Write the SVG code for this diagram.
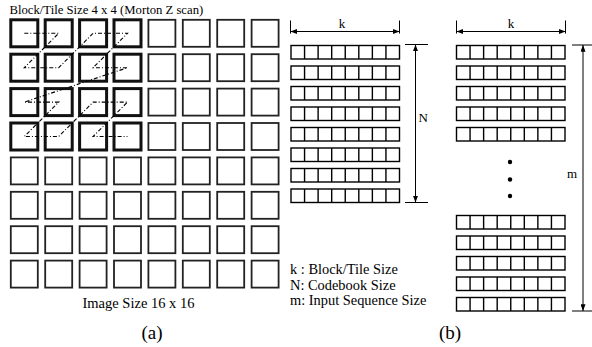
<svg xmlns="http://www.w3.org/2000/svg" xmlns:xlink="http://www.w3.org/1999/xlink" width="592" height="347" viewBox="0 0 592 347">
<style>
text{font-family:"Liberation Serif","Times New Roman",serif;fill:#000}
.thick{fill:#fff;stroke:#111;stroke-width:3}
.thin{fill:#fff;stroke:#222;stroke-width:1.8}
.cell{fill:#fff;stroke:#000;stroke-width:1.4}
.dim{fill:none;stroke:#000;stroke-width:1}
.scan{fill:none;stroke:#000;stroke-width:1.1;stroke-dasharray:4 2 1 2}
</style>
<defs>
<marker id="ah" viewBox="0 0 8 6" refX="8" refY="3" markerWidth="7" markerHeight="5" orient="auto-start-reverse" markerUnits="userSpaceOnUse">
<path d="M0,0 L8,3 L0,6 Z" fill="#000"/>
</marker>
<g id="strip">
<rect class="cell" x="0" y="0" width="108.5" height="13.5"/>
<path d="M13.56,0V13.5M27.12,0V13.5M40.69,0V13.5M54.25,0V13.5M67.81,0V13.5M81.37,0V13.5M94.94,0V13.5" stroke="#000" stroke-width="1.4"/>
</g>
<rect id="sq" width="27" height="27"/>
</defs>
<rect width="592" height="347" fill="#fff"/>

<g id="panel-a">
<text x="9.5" y="14" font-size="12.7">Block/Tile Size 4 x 4 (Morton Z scan)</text>
<g id="grid">
<g class="thick">
<use href="#sq" x="10.8" y="19.8"/><use href="#sq" x="45.2" y="19.8"/><use href="#sq" x="79.6" y="19.8"/><use href="#sq" x="114" y="19.8"/>
<use href="#sq" x="10.8" y="54.2"/><use href="#sq" x="45.2" y="54.2"/><use href="#sq" x="79.6" y="54.2"/><use href="#sq" x="114" y="54.2"/>
<use href="#sq" x="10.8" y="88.6"/><use href="#sq" x="45.2" y="88.6"/><use href="#sq" x="79.6" y="88.6"/><use href="#sq" x="114" y="88.6"/>
<use href="#sq" x="10.8" y="123"/><use href="#sq" x="45.2" y="123"/><use href="#sq" x="79.6" y="123"/><use href="#sq" x="114" y="123"/>
</g>
<g class="thin">
<use href="#sq" x="148.4" y="19.8"/><use href="#sq" x="182.8" y="19.8"/><use href="#sq" x="217.2" y="19.8"/><use href="#sq" x="251.6" y="19.8"/>
<use href="#sq" x="148.4" y="54.2"/><use href="#sq" x="182.8" y="54.2"/><use href="#sq" x="217.2" y="54.2"/><use href="#sq" x="251.6" y="54.2"/>
<use href="#sq" x="148.4" y="88.6"/><use href="#sq" x="182.8" y="88.6"/><use href="#sq" x="217.2" y="88.6"/><use href="#sq" x="251.6" y="88.6"/>
<use href="#sq" x="148.4" y="123"/><use href="#sq" x="182.8" y="123"/><use href="#sq" x="217.2" y="123"/><use href="#sq" x="251.6" y="123"/>
<use href="#sq" x="10.8" y="157.4"/><use href="#sq" x="45.2" y="157.4"/><use href="#sq" x="79.6" y="157.4"/><use href="#sq" x="114" y="157.4"/><use href="#sq" x="148.4" y="157.4"/><use href="#sq" x="182.8" y="157.4"/><use href="#sq" x="217.2" y="157.4"/><use href="#sq" x="251.6" y="157.4"/>
<use href="#sq" x="10.8" y="191.8"/><use href="#sq" x="45.2" y="191.8"/><use href="#sq" x="79.6" y="191.8"/><use href="#sq" x="114" y="191.8"/><use href="#sq" x="148.4" y="191.8"/><use href="#sq" x="182.8" y="191.8"/><use href="#sq" x="217.2" y="191.8"/><use href="#sq" x="251.6" y="191.8"/>
<use href="#sq" x="10.8" y="226.2"/><use href="#sq" x="45.2" y="226.2"/><use href="#sq" x="79.6" y="226.2"/><use href="#sq" x="114" y="226.2"/><use href="#sq" x="148.4" y="226.2"/><use href="#sq" x="182.8" y="226.2"/><use href="#sq" x="217.2" y="226.2"/><use href="#sq" x="251.6" y="226.2"/>
<use href="#sq" x="10.8" y="260.6"/><use href="#sq" x="45.2" y="260.6"/><use href="#sq" x="79.6" y="260.6"/><use href="#sq" x="114" y="260.6"/><use href="#sq" x="148.4" y="260.6"/><use href="#sq" x="182.8" y="260.6"/><use href="#sq" x="217.2" y="260.6"/><use href="#sq" x="251.6" y="260.6"/>
</g>
</g>
<text x="82.5" y="308" font-size="14.5">Image Size 16 x 16</text>
<text x="152" y="339" font-size="19" text-anchor="middle">(a)</text>
</g>

<g id="connectors">
<polyline class="scan" points="24.3,33.3 58.7,33.3 24.3,67.7 58.7,67.7 93.1,33.3 127.5,33.3 93.1,67.7 127.5,67.7 24.3,102.1 58.7,102.1 24.3,136.5 58.7,136.5 93.1,102.1 127.5,102.1 93.1,136.5 127.5,136.5"/>
<path class="dim" d="M290.5,20.5V33.5M399.5,20.5V33.5M405,44.5H428M405,202.5H428"/>
<line class="dim" x1="290.5" y1="31.5" x2="399.5" y2="31.5" marker-start="url(#ah)" marker-end="url(#ah)"/>
<line class="dim" x1="415.5" y1="44.5" x2="415.5" y2="202.5" marker-start="url(#ah)" marker-end="url(#ah)"/>
<path class="dim" d="M456.5,20.5V33.5M565.5,20.5V33.5M572,45H592M572,311H592"/>
<line class="dim" x1="456.5" y1="31.5" x2="565.5" y2="31.5" marker-start="url(#ah)" marker-end="url(#ah)"/>
<line class="dim" x1="583" y1="45" x2="583" y2="311" marker-start="url(#ah)" marker-end="url(#ah)"/>
</g>

<g id="codebook">
<text x="342" y="28" font-size="13" text-anchor="middle">k</text>
<use href="#strip" x="291" y="45.5"/>
<use href="#strip" x="291" y="66"/>
<use href="#strip" x="291" y="86.5"/>
<use href="#strip" x="291" y="107"/>
<use href="#strip" x="291" y="127.5"/>
<use href="#strip" x="291" y="148"/>
<use href="#strip" x="291" y="168.5"/>
<use href="#strip" x="291" y="189"/>
<text x="418.5" y="122" font-size="13">N</text>
</g>

<g id="legend">
<text x="290" y="274" font-size="14.4">k : Block/Tile Size</text>
<text x="290" y="289.5" font-size="14.4">N: Codebook Size</text>
<text x="290" y="305" font-size="14.4">m: Input Sequence Size</text>
</g>

<g id="sequence">
<text x="511" y="28" font-size="13" text-anchor="middle">k</text>
<use href="#strip" x="456.5" y="45.5"/>
<use href="#strip" x="456.5" y="66"/>
<use href="#strip" x="456.5" y="86.5"/>
<use href="#strip" x="456.5" y="107"/>
<use href="#strip" x="456.5" y="127.5"/>
<circle cx="510" cy="162" r="2.2"/>
<circle cx="510" cy="179.5" r="2.2"/>
<circle cx="510" cy="196" r="2.2"/>
<use href="#strip" x="456.5" y="215.5"/>
<use href="#strip" x="456.5" y="236"/>
<use href="#strip" x="456.5" y="256.5"/>
<use href="#strip" x="456.5" y="277"/>
<use href="#strip" x="456.5" y="297.5"/>
<text x="567" y="178" font-size="13">m</text>
<text x="450" y="339" font-size="19" text-anchor="middle">(b)</text>
</g>
</svg>
